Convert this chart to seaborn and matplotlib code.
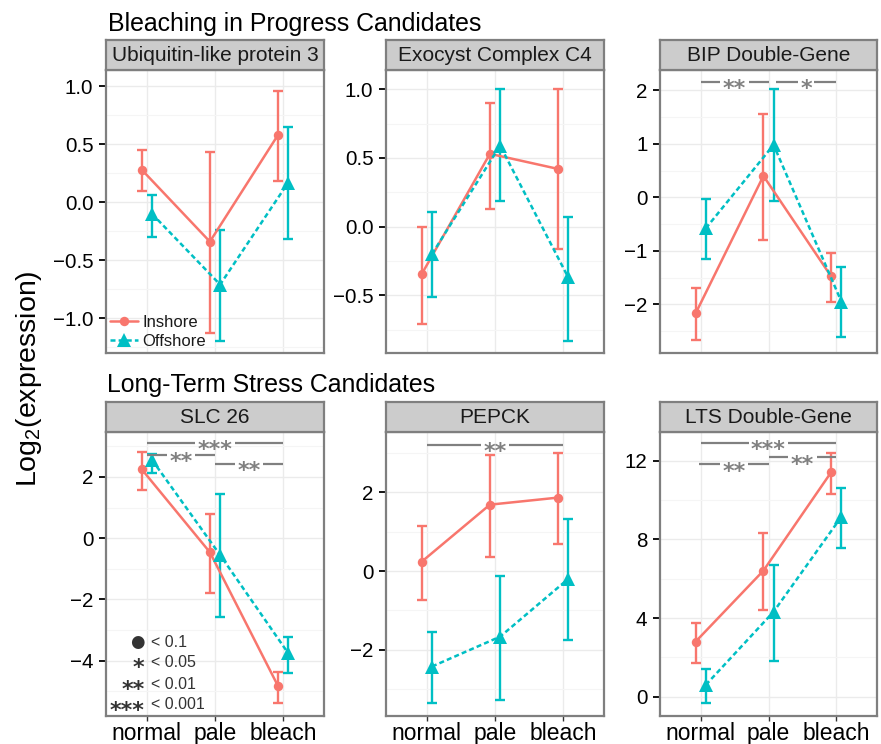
import matplotlib
matplotlib.use("Agg")
import matplotlib.pyplot as plt
import numpy as np
import pandas as pd
import seaborn as sns
from matplotlib.lines import Line2D
from matplotlib.ticker import MultipleLocator, FuncFormatter

# ---------------------------------------------------------------- data
stages = ["normal", "pale", "bleach"]
sites = ["Inshore", "Offshore"]
genes = ["Ubiquitin-like protein 3", "Exocyst Complex C4", "BIP Double-Gene",
         "SLC 26", "PEPCK", "LTS Double-Gene"]
group_titles = ["Bleaching in Progress Candidates", "Long-Term Stress Candidates"]

# log2 expression per stage (normal, pale, bleach) with lower / upper interval bounds
ubl3_in, ubl3_in_lo, ubl3_in_hi = [0.28, -0.34, 0.58], [0.10, -1.13, 0.18], [0.45, 0.43, 0.96]
ubl3_off, ubl3_off_lo, ubl3_off_hi = [-0.10, -0.71, 0.17], [-0.30, -1.20, -0.32], [0.06, -0.24, 0.65]

exo_in, exo_in_lo, exo_in_hi = [-0.345, 0.53, 0.42], [-0.71, 0.13, -0.165], [0.0, 0.90, 1.0]
exo_off, exo_off_lo, exo_off_hi = [-0.20, 0.59, -0.37], [-0.51, 0.19, -0.83], [0.107, 1.0, 0.07]

bip_in, bip_in_lo, bip_in_hi = [-2.17, 0.40, -1.48], [-2.67, -0.80, -1.96], [-1.69, 1.56, -1.05]
bip_off, bip_off_lo, bip_off_hi = [-0.58, 0.98, -1.95], [-1.16, -0.07, -2.62], [-0.04, 2.02, -1.30]

slc_in, slc_in_lo, slc_in_hi = [2.25, -0.46, -4.83], [1.58, -1.79, -5.38], [2.81, 0.80, -4.36]
slc_off, slc_off_lo, slc_off_hi = [2.56, -0.55, -3.76], [2.14, -2.58, -4.39], [2.75, 1.45, -3.24]

pep_in, pep_in_lo, pep_in_hi = [0.24, 1.69, 1.87], [-0.74, 0.35, 0.69], [1.15, 2.95, 3.00]
pep_off, pep_off_lo, pep_off_hi = [-2.43, -1.67, -0.20], [-3.37, -3.28, -1.76], [-1.54, -0.13, 1.32]

lts_in, lts_in_lo, lts_in_hi = [2.80, 6.41, 11.42], [1.73, 4.41, 10.31], [3.73, 8.31, 12.37]
lts_off, lts_off_lo, lts_off_hi = [0.60, 4.32, 9.15], [-0.34, 1.81, 7.58], [1.41, 6.70, 10.60]

# pairwise significance brackets: (from stage, to stage, label, height)
bip_sig = [(0, 1, "**", 2.155), (1.11, 2, "*", 2.155)]
slc_sig = [(0, 2, "***", 3.11), (0, 1, "**", 2.72), (1, 2, "**", 2.43)]
pep_sig = [(0, 2, "**", 3.22)]
lts_sig = [(0, 2, "***", 12.90), (-0.02, 1, "**", 11.81), (1, 2, "**", 12.17)]

sig_symbols = ["\u25CF", "*", "**", "***"]
sig_levels = ["< 0.1", "< 0.05", "< 0.01", "< 0.001"]

series = {
    genes[0]: [(ubl3_in, ubl3_in_lo, ubl3_in_hi), (ubl3_off, ubl3_off_lo, ubl3_off_hi)],
    genes[1]: [(exo_in, exo_in_lo, exo_in_hi), (exo_off, exo_off_lo, exo_off_hi)],
    genes[2]: [(bip_in, bip_in_lo, bip_in_hi), (bip_off, bip_off_lo, bip_off_hi)],
    genes[3]: [(slc_in, slc_in_lo, slc_in_hi), (slc_off, slc_off_lo, slc_off_hi)],
    genes[4]: [(pep_in, pep_in_lo, pep_in_hi), (pep_off, pep_off_lo, pep_off_hi)],
    genes[5]: [(lts_in, lts_in_lo, lts_in_hi), (lts_off, lts_off_lo, lts_off_hi)],
}
brackets = {genes[2]: bip_sig, genes[3]: slc_sig, genes[4]: pep_sig, genes[5]: lts_sig}

rows = []
for gene in genes:
    for site, (mean, lo, hi) in zip(sites, series[gene]):
        for k, stage in enumerate(stages):
            rows.append(dict(gene=gene, site=site, stage=stage, idx=k,
                             expr=mean[k], lo=lo[k], hi=hi[k]))
df = pd.DataFrame(rows)

# ---------------------------------------------------------------- style
sns.set_theme(style="white")
plt.rcParams.update({
    "font.family": ["Liberation Sans", "DejaVu Sans"],
    "axes.unicode_minus": True,
    "mathtext.default": "regular",
})

palette = {"Inshore": "#F8766D", "Offshore": "#00BFC4"}
markers = {"Inshore": "o", "Offshore": "^"}
msizes = {"Inshore": 6.8, "Offshore": 9.6}
lstyles = {"Inshore": "-", "Offshore": (0, (2.0, 1.25))}
dodge = {"Inshore": -0.075, "Offshore": 0.075}
df["pos"] = df["idx"] + df["site"].map(dodge)

border = "#7F7F7F"
bracket_gray = "#808080"
key_gray = "#333333"
star_font = dict(family="DejaVu Sans", weight="bold")
star_fs = 16
star_mid = 0.60  # height of the asterisk's centre above the baseline, in em

ylims = [(-1.30, 1.14), (-0.92, 1.14), (-2.91, 2.38),
         (-5.81, 3.47), (-3.69, 3.54), (-0.98, 13.46)]
ysteps = [0.5, 0.5, 1, 2, 2, 4]


def tick_formatter(step):
    fmt = "%.1f" if step < 1 else "%d"
    return FuncFormatter(lambda v, _pos: (fmt % v).replace("-", "\u2212"))


W, H = 881.0, 744.0
fig = plt.figure(figsize=(W / 100, H / 100), dpi=100)


def px_rect(x0, y0, x1, y1):
    return [x0 / W, 1 - y1 / H, (x1 - x0) / W, (y1 - y0) / H]


col_edges = [(106, 324), (386, 604), (660, 877)]
row_edges = [(70, 353), (432, 716)]
strip_h = 30

axes = []
for i, gene in enumerate(genes):
    r, c = divmod(i, 3)
    x0, x1 = col_edges[c]
    y0, y1 = row_edges[r]
    ax = fig.add_axes(px_rect(x0, y0, x1, y1))
    axes.append(ax)
    sub = df[df["gene"] == gene]

    for site in sites:
        s = sub[sub["site"] == site]
        ax.errorbar(s["pos"], s["expr"], yerr=[s["expr"] - s["lo"], s["hi"] - s["expr"]],
                    fmt="none", ecolor=palette[site], elinewidth=1.7, capsize=3.8,
                    capthick=1.7, zorder=2)
    for site in sites:
        s = sub[sub["site"] == site]
        sns.lineplot(data=s, x="pos", y="expr", ax=ax, color=palette[site],
                     marker=markers[site], markersize=msizes[site], markeredgewidth=0,
                     linewidth=1.8, linestyle=lstyles[site], errorbar=None,
                     legend=False, zorder=3)

    ax.set_xlim(-0.6, 2.6)
    ax.set_ylim(*ylims[i])
    ax.set_xticks(range(len(stages)))
    ax.yaxis.set_major_locator(MultipleLocator(ysteps[i]))
    ax.yaxis.set_minor_locator(MultipleLocator(ysteps[i] / 2))
    ax.yaxis.set_major_formatter(tick_formatter(ysteps[i]))
    ax.set_xlabel("")
    ax.set_ylabel("")
    ax.set_facecolor("white")
    ax.grid(True, which="major", color="#EBEBEB", linewidth=1.0)
    ax.grid(True, which="minor", axis="y", color="#F5F5F5", linewidth=0.8)
    ax.set_axisbelow(True)
    for sp in ax.spines.values():
        sp.set_color(border)
        sp.set_linewidth(1.6)
        sp.set_visible(True)
    ax.tick_params(axis="y", which="major", left=True, length=5, width=1.3,
                   color="black", labelsize=14.8, labelcolor="black", pad=4)
    ax.tick_params(axis="y", which="minor", left=False)
    if r == 1:
        ax.set_xticklabels(stages)
        ax.tick_params(axis="x", bottom=True, length=3.5, width=1.0, color="#333333",
                       labelsize=16.5, labelcolor="black", pad=0.5)
    else:
        ax.set_xticklabels([])
        ax.tick_params(axis="x", bottom=False, length=0)

    # facet strip
    sax = fig.add_axes(px_rect(x0, y0 - strip_h, x1, y0))
    sax.set_facecolor("#CCCCCC")
    sax.set_xticks([])
    sax.set_yticks([])
    for sp in sax.spines.values():
        sp.set_color(border)
        sp.set_linewidth(1.6)
    sax.text(0.5, 0.47, gene, ha="center", va="center", fontsize=15, color="#1A1A1A",
             transform=sax.transAxes)

# site legend in the first panel
handles = [Line2D([], [], color=palette[s], marker=markers[s], markersize=msizes[s],
                  markeredgewidth=0, linewidth=1.8, linestyle=lstyles[s]) for s in sites]
leg = axes[0].legend(handles, sites, loc="lower left", frameon=False, fontsize=12,
                     handlelength=1.65, handletextpad=0.3, borderaxespad=0.15,
                     borderpad=0.1, labelspacing=0.22)
for t in leg.get_texts():
    t.set_color("#1A1A1A")

# significance key in the SLC 26 panel
key_ax = axes[3]
key_y = [0.264, 0.194, 0.117, 0.045]
for sym, lvl, yk in zip(sig_symbols, sig_levels, key_y):
    if sym == "\u25CF":
        key_ax.annotate(sym, xy=(0.1775, yk), xycoords="axes fraction",
                        xytext=(0, -0.33 * 12), textcoords="offset points",
                        ha="right", va="baseline", fontsize=12, color=key_gray,
                        family="DejaVu Sans")
    else:
        key_ax.annotate(sym, xy=(0.1775, yk), xycoords="axes fraction",
                        xytext=(0, -star_mid * star_fs), textcoords="offset points",
                        ha="right", va="baseline", fontsize=star_fs, color=key_gray,
                        **star_font)
    key_ax.annotate(lvl, xy=(0.205, yk), xycoords="axes fraction",
                    xytext=(0, -0.36 * 11.5), textcoords="offset points",
                    ha="left", va="baseline", fontsize=11.5, color=key_gray)

# group titles and shared y label
fig.text(108 / W, 1 - 31 / H, group_titles[0], fontsize=17.9, ha="left", va="baseline",
         color="black")
fig.text(107 / W, 1 - 392.3 / H, group_titles[1], fontsize=17.9, ha="left", va="baseline",
         color="black")
fig.text(29 / W, 1 - 379 / H, "Log$_{2}$(expression)", fontsize=20.5, rotation=90,
         ha="center", va="center", color="black")

# significance brackets: label text, then line segments leaving room for it
fig.canvas.draw()
renderer = fig.canvas.get_renderer()
pending = []
for i, gene in enumerate(genes):
    ax = axes[i]
    for xa, xb, label, yb in brackets.get(gene, []):
        xm = (xa + xb) / 2
        t = ax.annotate(label, xy=(xm, yb), xytext=(0, -star_mid * star_fs),
                        textcoords="offset points", ha="center", va="baseline",
                        fontsize=star_fs, color=bracket_gray, zorder=5, **star_font)
        pending.append((ax, t, xa, xb, xm, yb))
fig.canvas.draw()
for ax, t, xa, xb, xm, yb in pending:
    w = t.get_window_extent(renderer).width
    cx, cy = ax.transData.transform((xm, yb))
    inv = ax.transData.inverted()
    left = inv.transform((cx - w / 2 - 2.5, cy))[0]
    right = inv.transform((cx + w / 2 + 2.5, cy))[0]
    ax.plot([xa, left], [yb, yb], color=bracket_gray, linewidth=1.6, zorder=5,
            solid_capstyle="butt")
    ax.plot([right, xb], [yb, yb], color=bracket_gray, linewidth=1.6, zorder=5,
            solid_capstyle="butt")

fig.savefig("out.png", dpi=100)
